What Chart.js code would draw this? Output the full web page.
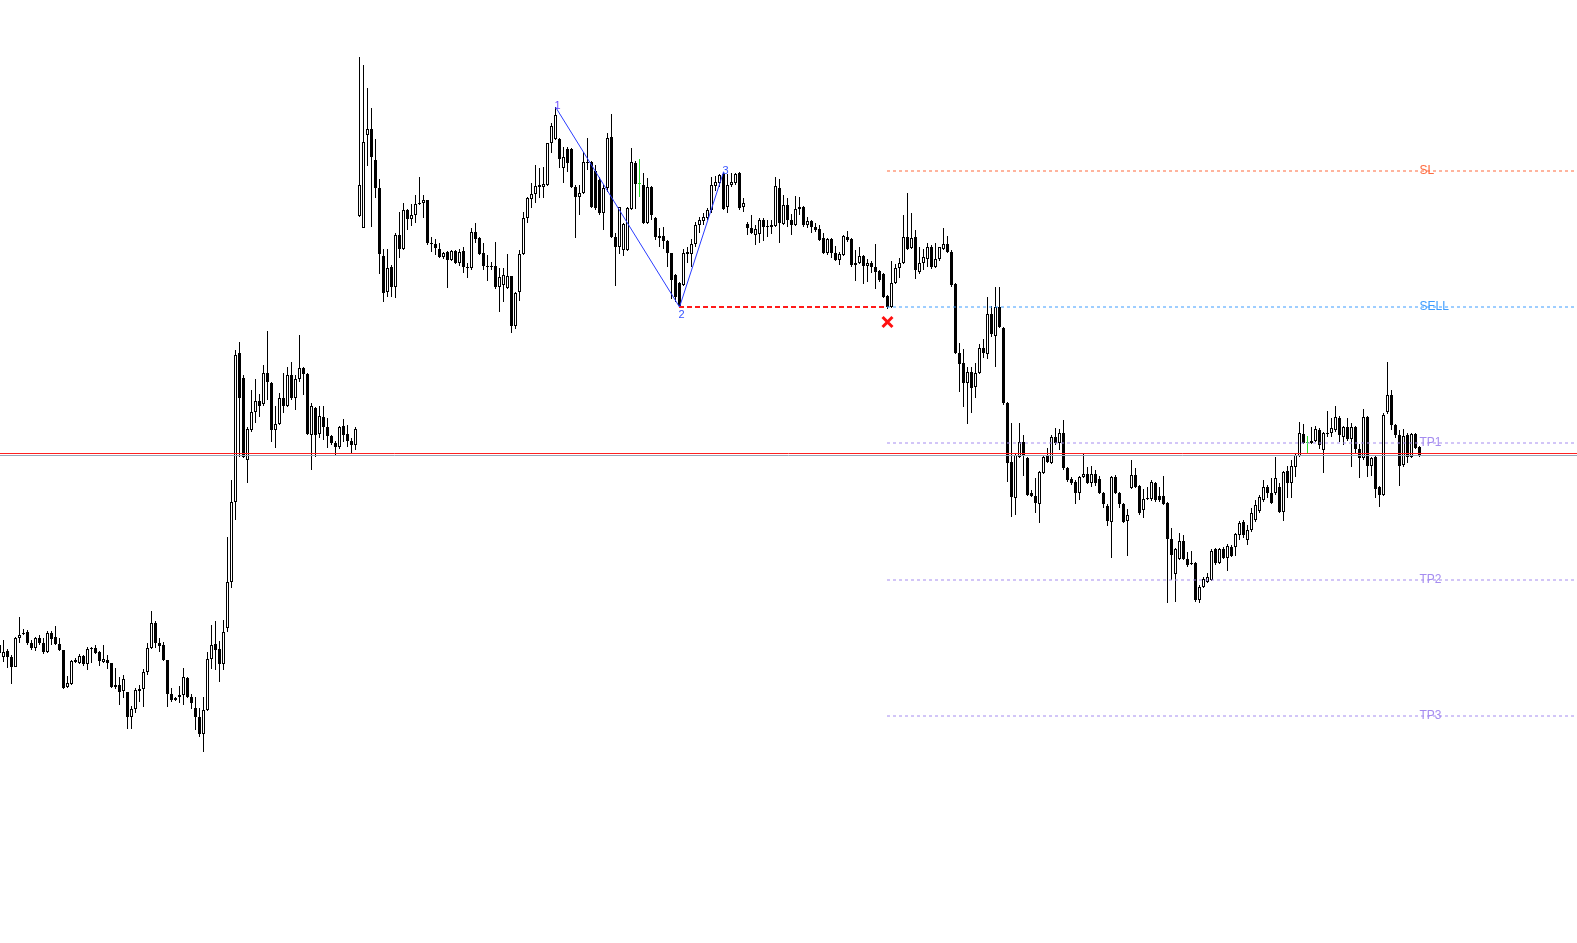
<!DOCTYPE html>
<html><head><meta charset="utf-8">
<script src="https://cdn.jsdelivr.net/npm/chart.js@4.4.1/dist/chart.umd.min.js"></script>
<style>html,body{margin:0;padding:0;background:#fff;overflow:hidden}canvas{display:block}</style>
</head><body><canvas id="c" width="1577" height="943"></canvas>
<script>
// OHLC series (one value per candle, index = candle number)
const opens = [
355,343,349,343,333,362,366,368,357,352, 362,357,348,367,363,356,350,313,316,340,
337,344,336,351,352,348,338,340,337,315, 315,309,308,283,291,309,311,328,352,377,
357,355,340,306,300,303,305,322,303,292, 283,266,290,341,356,351,336,372,418,498,
647,622,540,570,588,599,596,627,617,570, 576,602,594,625,602,621,632,626,565,592,
566,583,573,564,557,553,574,566,559,555, 784,772,865,871,840,812,744,708,733,713,
765,751,790,781,785,796,797,800,757,756, 751,743,748,740,749,737,749,733,732,768,
762,747,734,734,734,713,715,712,724,674, 708,746,782,801,806,815,813,815,857,861,
861,832,851,851,813,803,807,837,838,829, 820,787,812,863,763,753,750,750,791,837,
816,815,777,813,782,762,764,759,747,725, 717,715,746,746,756,775,779,782,790,814,
817,826,793,815,817,827,793,776,772,765, 766,780,774,773,774,812,776,795,780,775,
791,793,775,779,773,771,762,747,761,747, 740,745,763,761,735,737,744,734,737,733,
729,726,704,693,717,732,737,763,752,763, 728,737,741,753,733,741,751,756,748,716,
647,637,617,628,613,627,652,646,686,664, 693,672,597,538,502,543,558,542,507,504,
496,527,544,537,563,557,567,532,521,518, 507,523,526,517,526,521,507,494,478,523,
507,496,479,512,525,514,490,501,501,517, 504,504,497,461,426,441,459,441,437,437,
400,413,418,420,451,437,451,442,453,453, 465,478,460,470,480,489,500,513,507,507,
513,488,529,517,533,544,566,557,557,559, 570,550,567,567,570,582,563,573,561,573,
551,542,583,534,543,513,505,588,605,575, 565,535,565,543,566,553];
const highs = [
360,360,351,345,363,383,371,370,360,363, 365,362,369,369,374,362,350,324,340,342,
346,345,353,353,355,349,355,345,337,332, 323,325,308,294,312,315,331,357,389,379,
362,358,340,312,303,314,332,323,306,303, 292,303,348,375,379,359,380,463,520,650,
658,625,573,610,621,606,635,669,618,594, 607,627,633,638,625,665,633,627,597,593,
594,594,582,565,559,574,581,575,562,573, 943,935,912,892,861,821,751,751,735,767,
788,797,791,796,805,823,805,800,763,761, 757,748,749,750,750,751,753,737,772,777,
763,757,745,738,758,732,732,746,724,708, 750,788,803,817,835,832,833,857,877,893,
862,853,853,852,815,815,848,862,839,835, 823,815,867,886,767,793,777,793,852,839,
841,827,822,814,783,772,773,760,747,726, 718,751,753,761,778,783,787,792,823,824,
826,828,826,827,827,828,802,778,785,775, 782,782,780,780,823,821,805,802,786,804,
803,794,783,780,777,775,767,762,762,754, 748,765,769,762,750,753,745,741,739,756,
730,727,705,739,736,742,785,807,787,770, 753,751,757,755,757,753,772,764,750,717,
657,651,633,633,637,656,661,703,694,713, 713,673,598,577,546,577,565,543,510,522,
529,545,552,565,572,571,580,533,523,520, 524,547,533,534,530,524,508,496,524,525,
508,497,491,540,532,515,511,513,520,518, 513,524,498,472,452,467,465,448,449,438,
415,423,427,451,452,452,453,456,455,467, 479,480,475,492,500,505,520,515,522,543,
517,529,534,540,547,578,576,564,573,574, 572,568,589,582,594,584,574,582,577,574,
556,591,584,543,544,514,587,638,610,576, 570,571,567,567,567,554];
const lows = [
343,338,332,316,333,357,365,355,350,349, 355,346,347,355,355,349,311,312,315,337,
336,334,330,337,346,334,337,331,312,311, 295,302,271,271,287,298,293,325,351,352,
348,339,293,298,299,297,295,302,291,270, 263,248,289,331,330,318,330,368,412,480,
543,542,517,568,577,583,594,600,558,552, 575,587,593,600,590,618,605,565,530,543,
562,560,552,555,545,551,558,553,546,550, 783,772,834,773,802,726,698,703,703,702,
742,750,770,774,777,795,782,755,748,745, 742,741,712,739,736,734,727,722,730,757,
745,730,719,730,711,688,698,711,667,671, 699,745,777,792,797,802,802,814,847,860,
832,817,828,812,762,785,806,830,792,790, 785,770,808,762,714,746,744,749,790,791,
803,776,776,780,760,753,751,733,701,698, 693,714,737,733,753,767,775,780,787,809,
813,790,787,813,815,790,788,765,766,755, 757,759,763,766,773,757,775,773,765,774,
785,773,772,767,768,759,746,745,742,739, 735,744,758,733,719,736,716,718,727,711,
718,702,691,692,716,722,736,750,751,721, 726,730,733,731,732,739,750,747,713,646,
608,593,576,587,602,626,642,641,663,633, 672,595,518,483,485,542,524,504,503,487,
477,526,537,536,555,550,530,518,515,496, 500,522,516,513,514,506,492,474,442,506,
492,477,444,511,512,485,482,500,499,498, 498,495,397,420,398,440,440,433,435,398,
397,412,417,419,435,436,441,429,443,444, 460,462,455,468,478,487,498,502,496,505,
487,479,502,502,523,543,556,547,556,558, 551,527,563,563,568,558,555,559,533,547,
522,540,523,524,502,493,504,586,570,562, 514,533,537,542,551,543];
const closes = [
347,348,343,333,362,365,367,357,352,362, 357,348,367,361,356,350,312,317,339,338,
344,336,351,352,347,339,341,337,313,313, 308,321,283,291,310,311,328,352,377,357,
354,340,306,300,302,305,323,303,297,283, 266,290,341,355,350,336,368,418,498,645,
602,543,571,588,599,594,627,618,570,576, 602,594,625,602,621,632,626,566,594,565,
584,573,564,557,553,573,565,559,555,571, 815,858,871,843,812,746,707,732,713,765,
751,790,781,785,796,797,800,757,756,752, 743,747,740,749,737,748,733,732,768,761,
746,734,733,733,713,723,725,724,674,707, 746,782,802,806,814,813,816,857,874,885,
841,843,837,813,803,807,838,838,793,792, 787,812,862,763,753,793,776,792,838,816,
816,777,813,785,763,764,759,747,720,703, 694,747,748,756,775,780,783,790,815,818,
825,791,815,818,826,792,797,772,767,771, 780,773,773,775,814,777,795,780,775,791,
793,775,779,773,770,760,747,761,747,740, 746,764,760,735,737,744,734,737,733,728,
720,703,693,717,732,737,763,751,762,730, 737,743,753,733,741,753,756,748,715,647,
636,617,628,612,627,652,647,686,666,693, 673,597,537,503,545,558,544,505,504,497,
528,543,538,563,557,567,532,520,517,507, 523,526,517,526,517,507,496,479,523,507,
496,478,485,525,513,487,501,502,518,500, 500,496,461,445,451,459,441,435,436,400,
413,421,423,449,437,451,442,454,444,466, 477,465,470,487,495,503,513,507,497,522,
488,528,517,534,545,567,557,557,559,571, 555,567,566,572,583,565,573,561,573,551,
542,583,534,542,511,505,585,605,575,565, 534,564,543,566,552,544];

// trade levels
const levelNames  = ['SL', 'SELL', 'TP1', 'TP2', 'TP3'];
const levelPrices = [829, 693, 557, 420, 284];
const levelColors = ['#ff6a3d', '#3d9cff', '#a58cf0', '#a58cf0', '#a58cf0'];
const signalIndex = 222;       // candle where the signal fired
const signalMarkPrice = 678;   // red cross below the signal candle
// zigzag pattern points
const zigIndex  = [139, 170, 181];
const zigPrice  = [893, 693, 828];
const zigLabels = ['1', '2', '3'];
// current ask / bid lines
const askPrice = 546.5;
const bidPrice = 544.5;

const X_MIN = 0.125, X_MAX = 394.375, Y_MIN = 57, Y_MAX = 1000;
const HALF_PX = 0.125; // half a pixel in index units, keeps dashes on whole pixels

const bodyData = opens.map((o, i) => ({x: i, y: [Math.min(o, closes[i]), Math.max(o, closes[i])]}));
const wickData = lows.map((l, i) => ({x: i, y: [l, highs[i]]}));
const candleFill = opens.map((o, i) => closes[i] > o ? '#ffffff' : (closes[i] < o ? '#000000' : '#22dd22'));
const candleEdge = opens.map((o, i) => closes[i] === o ? '#22dd22' : '#000000');

const lineBase = {type: 'line', pointRadius: 0, pointHoverRadius: 0, fill: false, tension: 0, borderWidth: 1};
const datasets = [];
// X marker
datasets.push({type: 'line', data: [{x: signalIndex, y: signalMarkPrice}], showLine: false,
  pointStyle: 'crossRot', pointRadius: 7, pointBorderWidth: 3, pointBorderColor: '#ff1010',
  pointBackgroundColor: '#ff1010', order: 0});
// zigzag
datasets.push({...lineBase, data: zigIndex.map((k, i) => ({x: k, y: zigPrice[i]})), borderColor: '#2a3cff', order: 1});
// signal dashed line from point 2 to signal
datasets.push({...lineBase, data: [{x: zigIndex[1] - HALF_PX, y: zigPrice[1]}, {x: signalIndex - HALF_PX, y: zigPrice[1]}],
  borderColor: '#ff1a1a', borderWidth: 2, borderDash: [5, 3], order: 1});
// levels
levelPrices.forEach((p, i) => {
  datasets.push({...lineBase, data: [{x: signalIndex - HALF_PX, y: p}, {x: X_MAX, y: p}],
    borderColor: levelColors[i], borderDash: [3, 3], order: 2});
});
// ask & bid
datasets.push({...lineBase, data: [{x: X_MIN, y: askPrice}, {x: X_MAX, y: askPrice}], borderColor: '#ff2020', order: 2});
datasets.push({...lineBase, data: [{x: X_MIN, y: bidPrice}, {x: X_MAX, y: bidPrice}], borderColor: '#98a4b8', order: 2});
// candle bodies & wicks
datasets.push({type: 'bar', data: bodyData, backgroundColor: candleFill, borderColor: candleEdge,
  borderWidth: 1, borderSkipped: false, barThickness: 3, grouped: false, minBarLength: 1,
  inflateAmount: 0, order: 5});
datasets.push({type: 'bar', data: wickData, backgroundColor: candleEdge, borderWidth: 0,
  barThickness: 1, grouped: false, inflateAmount: 0, order: 6});

const textPlugin = {
  id: 'chartTexts',
  afterDatasetsDraw(chart) {
    const {ctx, scales: {x, y}} = chart;
    ctx.save();
    ctx.font = '12px "Liberation Sans", Arial, sans-serif';
    ctx.textAlign = 'left';
    ctx.textBaseline = 'middle';
    const lx = x.getPixelForValue(opens.length - 1);
    levelNames.forEach((n, i) => {
      ctx.fillStyle = levelColors[i];
      ctx.fillText(n, lx, y.getPixelForValue(levelPrices[i]));
    });
    ctx.font = '11px "Liberation Sans", Arial, sans-serif';
    ctx.textAlign = 'center';
    zigLabels.forEach((t, i) => {
      const px = x.getPixelForValue(zigIndex[i]);
      const py = y.getPixelForValue(zigPrice[i]);
      ctx.fillStyle = i === 0 ? '#6a4cff' : '#3552ff';
      if (i === 1) { ctx.textBaseline = 'top'; ctx.fillText(t, px + 2, py + 2); }
      else { ctx.textBaseline = 'middle'; ctx.fillText(t, px + 2, py - 1); }
    });
    ctx.restore();
  }
};

new Chart(document.getElementById('c'), {
  type: 'bar',
  data: {datasets},
  options: {
    responsive: false, animation: false, devicePixelRatio: 1,
    layout: {padding: 0, autoPadding: false},
    plugins: {legend: {display: false}, tooltip: {enabled: false}, title: {display: false}},
    scales: {
      x: {type: 'linear', display: false, min: X_MIN, max: X_MAX, offset: false},
      y: {type: 'linear', display: false, min: Y_MIN, max: Y_MAX}
    }
  },
  plugins: [textPlugin]
});
</script></body></html>
